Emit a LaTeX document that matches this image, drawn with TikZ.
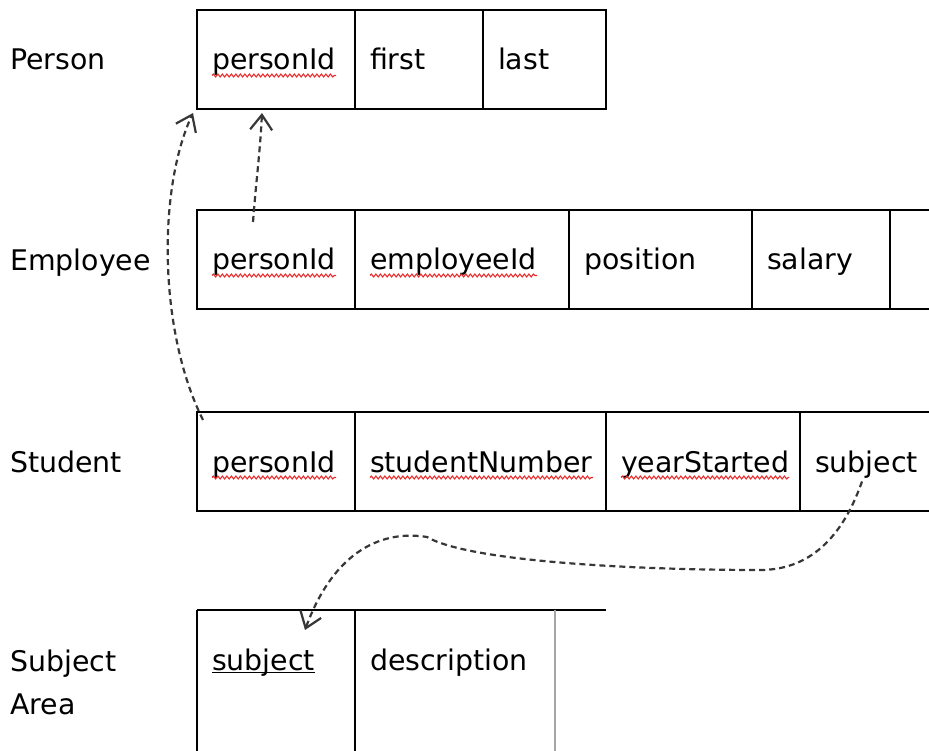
\documentclass[tikz,border=0pt]{standalone}
\usepackage{fontspec}
\setmainfont{DejaVu Sans}
\usetikzlibrary{
  arrows.meta,
  positioning,
  decorations.pathmorphing
}
\definecolor{LinkGray}{RGB}{55,55,55}
\definecolor{SpellRed}{RGB}{232,40,40}
\definecolor{DivGray}{RGB}{165,165,165}
\newcommand\pkey[1]{\setbox0=\hbox{#1}\rlap{\rule[-3pt]{\wd0}{1.3pt}}\box0}
\tikzset{
  rowlabel/.style={inner sep=0pt,align=left,font=\fontsize{28.4pt}{43pt}\selectfont},
  cell/.style={draw,line width=1.5pt,outer sep=0pt,inner xsep=15pt,inner ysep=0pt,minimum height=99pt,text width=#1,text height=21pt,text depth=0pt,align=left,font=\fontsize{28.4pt}{34pt}\selectfont},
  blankcell/.style={cell=#1,draw=none},
  frame/.style={line width=1.5pt},
  fkarrow/.style={-{Straight Barb[length=15pt,width=22pt]},dash pattern=on 6pt off 4pt,line width=2.2pt,draw=LinkGray},
  spell/.style={draw=SpellRed,line width=1.1pt,decorate,decoration={snake,segment length=4.5pt,amplitude=1.4pt}}
}

\begin{document}
\begin{tikzpicture}[x=1pt,y=-1pt]
\useasboundingbox (0,0) rectangle (929,751);
\clip (0,0) rectangle (929,751);

% row labels
\node[rowlabel,anchor=base west] (lperson) at (10,70) {Person};
\node[rowlabel,anchor=base west] (lemployee) at (10,271) {Employee};
\node[rowlabel,anchor=base west] (lstudent) at (10,472) {Student};
\node[rowlabel,anchor=north west] (lsubject) at (10,650) {Subject\\Area};

% Person
\node[cell=128,anchor=north west] (p1) at (197,10) {personId};
\node[cell=98,right=0pt of p1] (p2) {first};
\node[cell=93,right=0pt of p2] (p3) {last};

% Employee
\node[cell=128,anchor=north west] (e1) at (197,210) {personId};
\node[cell=184,right=0pt of e1] (e2) {employeeId};
\node[cell=153,right=0pt of e2] (e3) {position};
\node[cell=108,right=0pt of e3] (e4) {salary};
\node[cell=90,right=0pt of e4] (e5) {};

% Student
\node[cell=128,anchor=north west] (s1) at (197,412) {personId};
\node[cell=221,right=0pt of s1] (s2) {studentNumber};
\node[cell=164,right=0pt of s2] (s3) {yearStarted};
\node[cell=170,right=0pt of s3] (s4) {subject};

% Subject Area
\node[blankcell=128,anchor=north west] (sa1) at (197,610) {\pkey{subject}};
\node[blankcell=170,right=0pt of sa1] (sa2) {description};
\draw[frame] (sa1.north west) -- ++(409,0);
\draw[frame] (sa1.north west) -- ++(0,160);
\draw[frame] (sa1.north east) -- ++(0,160);
\draw[frame,draw=DivGray] (sa2.north east) -- ++(0,160);

% spelling marks
\draw[spell] ([xshift=15pt,yshift=-16pt]p1.west) -- ++(124,0);
\draw[spell] ([xshift=15pt,yshift=-16pt]e1.west) -- ++(124,0);
\draw[spell] ([xshift=15pt,yshift=-16pt]e2.west) -- ++(167,0);
\draw[spell] ([xshift=15pt,yshift=-16pt]s1.west) -- ++(124,0);
\draw[spell] ([xshift=15pt,yshift=-16pt]s2.west) -- ++(223,0);
\draw[spell] ([xshift=15pt,yshift=-16pt]s3.west) -- ++(168,0);

% foreign keys
\coordinate (fk1s) at ([xshift=56pt,yshift=-12pt]e1.north west);
\coordinate (fk1e) at ([xshift=65pt,yshift=-4pt]p1.south west);
\coordinate (fk2s) at ([xshift=6pt,yshift=-8pt]s1.north west);
\coordinate (fk2e) at ([xshift=-4pt,yshift=-4pt]p1.south west);
\coordinate (fk3s) at ([xshift=62pt,yshift=-20pt]s4.west);
\coordinate (fk3e) at ([xshift=108pt,yshift=-20pt]sa1.north west);

\draw[fkarrow] (fk1s) .. controls +(3,-40) and +(-2,40) .. (fk1e);
\draw[fkarrow] (fk2s) .. controls +(-45,-90) and +(-35,75) .. (fk2e);
\draw[fkarrow] (fk3s) .. controls (845,530) and (815,570) .. (760,570)
  .. controls (640,570) and (470,562) .. (427,537)
  .. controls (385,530) and (335,548) .. (fk3e);
\end{tikzpicture}
\end{document}
